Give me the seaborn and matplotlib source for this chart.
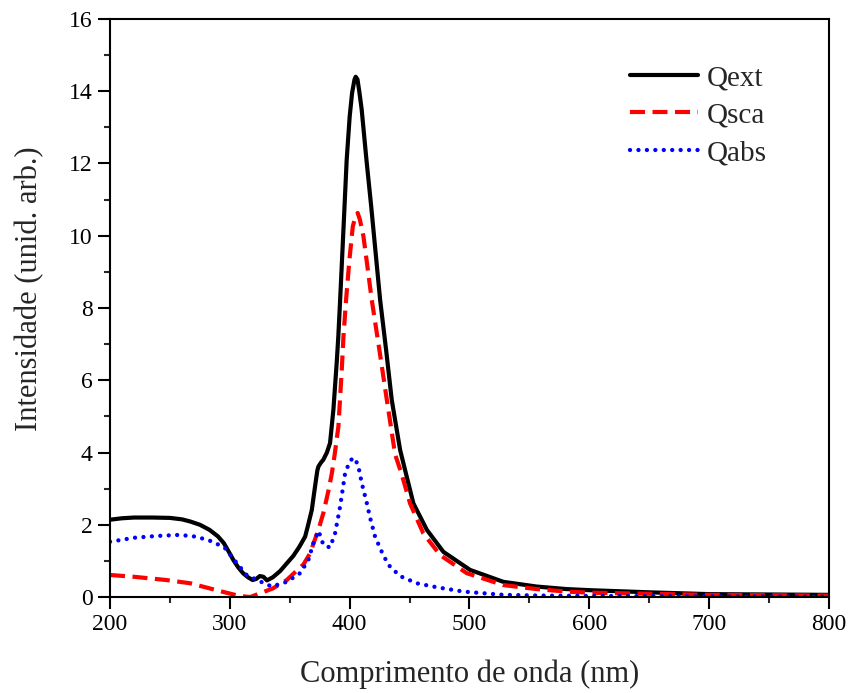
# Extinction, scattering and absorption efficiencies vs wavelength

import matplotlib
matplotlib.use("Agg")
import pandas as pd
import seaborn as sns
import matplotlib.pyplot as plt
from matplotlib.ticker import MultipleLocator

# Data
wl_ext = [200, 210, 220, 235, 250, 260, 267, 275, 283, 290, 295, 300, 303, 307, 311,
          315, 319, 322, 325, 328, 331, 336, 342, 348, 353, 358, 362.8, 365, 368.4, 370,
          371.1, 373, 373.9, 376, 378, 381, 383.6, 386.4, 389.2, 390.5, 392, 394.7,
          397.5, 400, 402, 404, 405, 406.5, 408, 410, 414, 418, 422.6, 425.4, 430.4,
          435.1, 442.1, 446.2, 453.2, 464.4, 478.2, 500.5, 528.3, 556, 581,
          600, 650, 700, 750, 800]
q_ext = [2.14, 2.18, 2.2, 2.2, 2.19, 2.15, 2.09, 2.0, 1.86, 1.68, 1.49, 1.2, 1.02, 0.82, 0.66,
         0.55, 0.47, 0.5, 0.58, 0.56, 0.46, 0.55, 0.72, 0.95, 1.14, 1.39, 1.67, 1.95, 2.41, 2.8,
         3.06, 3.5, 3.61, 3.72, 3.8, 4.0, 4.26, 5.18, 6.5, 7.2, 8.2, 10.1,
         12.1, 13.3, 13.95, 14.32, 14.4, 14.33, 14.0, 13.5, 12.1, 10.8, 9.2, 8.23, 6.84,
         5.46, 4.07, 3.52, 2.59, 1.86, 1.25, 0.75, 0.42, 0.29, 0.22,
         0.19, 0.13, 0.08, 0.07, 0.06]

wl_sca = [200, 220, 247, 267, 283, 297, 308, 317, 325, 336, 347.5, 358, 361.4, 367, 370,
          373.9, 378, 382, 385, 387.5, 390.6, 393.4, 394.8, 397, 399.8, 402.6, 405, 406.7,
          408.5, 411.5, 414.8, 418.4, 424.8, 431, 437.9, 443.4, 450.4, 461.5, 475.5,
          497.7, 528.3, 556, 581, 600, 650, 700, 750, 800]
q_sca = [0.61, 0.56, 0.47, 0.38, 0.24, 0.12, 0.03, 0.0, 0.1, 0.24, 0.47, 0.8, 0.9, 1.21, 1.5,
         1.86, 2.32, 2.9, 3.4, 3.95, 4.72, 6.29, 7.2, 8.23, 9.34, 10.26, 10.55, 10.63,
         10.45, 9.98, 9.15, 8.23, 6.84, 5.46, 3.95, 3.4, 2.59, 1.76, 1.16,
         0.66, 0.33, 0.22, 0.15, 0.12, 0.09, 0.06, 0.05, 0.04]

wl_abs = [200, 220, 239, 258, 272, 286, 296, 306, 314, 324, 335, 347.5, 358.6, 365.5,
          369.7, 373.9, 376, 378, 383.6, 387.8, 392, 396.2, 400, 403.1, 405.5, 407.3,
          410.1, 414.3, 417, 421.2, 426.8, 432.3, 442, 456, 472.7, 495, 528.3, 560,
          600, 700, 800]
q_abs = [1.53, 1.64, 1.69, 1.72, 1.67, 1.53, 1.35, 0.93, 0.61, 0.45, 0.29, 0.42, 0.66, 1.02,
         1.49, 1.83, 1.65, 1.44, 1.37, 1.76, 2.5, 3.43, 3.75, 3.86, 3.75, 3.61,
         3.15, 2.6, 2.2, 1.67, 1.25, 0.89, 0.58, 0.38, 0.27, 0.15, 0.06, 0.04,
         0.03, 0.02, 0.01]


def main():
    sns.set_style("ticks")
    plt.rcParams["font.family"] = ["Liberation Serif", "DejaVu Serif"]
    plt.rcParams["axes.linewidth"] = 1.5

    fig = plt.figure(figsize=(8.51, 6.93), dpi=100)
    ax = fig.add_axes([0.1293, 0.1385, 0.8448, 0.8341])

    sns.lineplot(x=wl_ext, y=q_ext, ax=ax, color="black", linewidth=3, label="Qext")
    sns.lineplot(x=wl_sca, y=q_sca, ax=ax, color="#ff0000", linewidth=3,
                 linestyle=(0, (3.6, 1.8)), label="Qsca")
    sns.lineplot(x=wl_abs, y=q_abs, ax=ax, color="#0000ff", linewidth=3.1,
                 linestyle=(0, (0.01, 1.95)), dash_capstyle="round", label="Qabs")

    ax.set_xlim(200, 800)
    ax.set_ylim(0, 16)
    ax.xaxis.set_major_locator(MultipleLocator(100))
    ax.xaxis.set_minor_locator(MultipleLocator(50))
    ax.yaxis.set_major_locator(MultipleLocator(2))
    ax.yaxis.set_minor_locator(MultipleLocator(1))
    ax.tick_params(which="major", direction="out", length=8.5, width=1.5,
                   labelsize=17, pad=4, colors="black")
    ax.tick_params(which="minor", direction="out", length=4.5, width=1.5)
    for s in ax.spines.values():
        s.set_visible(True)
        s.set_color("black")

    ax.set_xlabel("Comprimento de onda (nm)", fontsize=22)
    ax.set_ylabel("Intensidade (unid. arb.)", fontsize=22)
    ax.xaxis.set_label_coords(0.5, -0.108)
    ax.yaxis.set_label_coords(-0.092, 0.534)

    ax.legend(loc="upper left", bbox_to_anchor=(0.723, 0.921), frameon=False,
              fontsize=21, handlelength=2.35, handletextpad=0.3,
              labelspacing=0.38, borderpad=0, borderaxespad=0)

    fig.savefig("out.png", dpi=100)


main()
